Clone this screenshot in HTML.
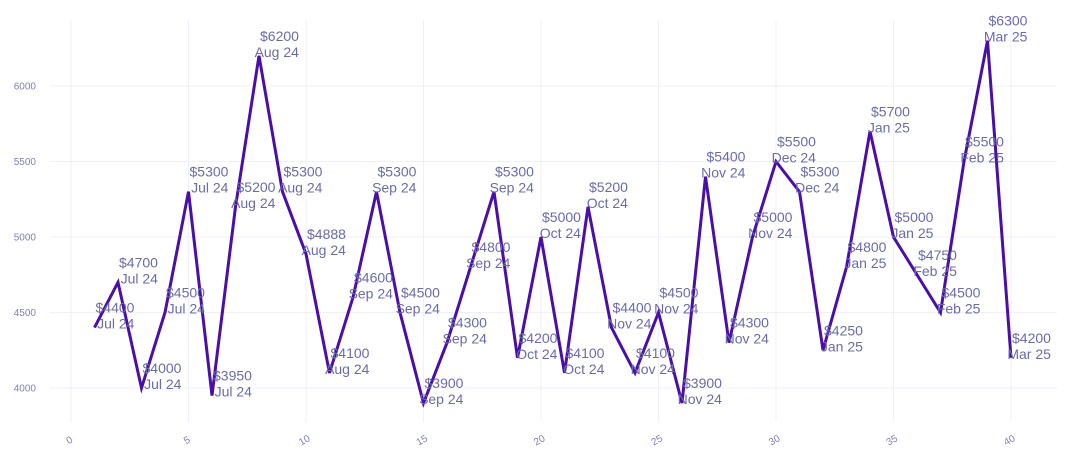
<!DOCTYPE html>
<html><head><meta charset="utf-8"><style>
body{margin:0;background:#fff;}
svg{display:block;font-family:"Liberation Sans",Arial,sans-serif;}
</style></head><body>
<svg id="chart" width="1075" height="462" viewBox="0 0 1075 462">
<g id="grid"></g>
<g id="axes"></g>
<g id="series"></g>
<g id="labels"></g>
</svg>
<script>
const xValues=[1,2,3,4,5,6,7,8,9,10,11,12,13,14,15,16,17,18,19,20,21,22,23,24,25,26,27,28,29,30,31,32,33,34,35,36,37,38,39,40];
const prices=[4400,4700,4000,4500,5300,3950,5200,6200,5300,4888,4100,4600,5300,4500,3900,4300,4800,5300,4200,5000,4100,5200,4400,4100,4500,3900,5400,4300,5000,5500,5300,4250,4800,5700,5000,4750,4500,5500,6300,4200];
const months=["Jul 24","Jul 24","Jul 24","Jul 24","Jul 24","Jul 24","Aug 24","Aug 24","Aug 24","Aug 24","Aug 24","Sep 24","Sep 24","Sep 24","Sep 24","Sep 24","Sep 24","Sep 24","Oct 24","Oct 24","Oct 24","Oct 24","Nov 24","Nov 24","Nov 24","Nov 24","Nov 24","Nov 24","Nov 24","Dec 24","Dec 24","Jan 25","Jan 25","Jan 25","Jan 25","Feb 25","Feb 25","Feb 25","Mar 25","Mar 25"];
const xTicks=[0,5,10,15,20,25,30,35,40];
const yTicks=[4000,4500,5000,5500,6000];

const NS="http://www.w3.org/2000/svg";
function sx(v){return 71+v*23.5;}
function sy(v){return 388-(v-4000)*0.151;}
function mk(tag,parent,attrs){const e=document.createElementNS(NS,tag);for(const k in attrs)e.setAttribute(k,attrs[k]);parent.appendChild(e);return e;}
const grid=document.getElementById('grid'),axes=document.getElementById('axes'),series=document.getElementById('series'),labels=document.getElementById('labels');

xTicks.forEach(t=>{
  const l=mk('line',grid,{x1:sx(t),x2:sx(t),y1:20,y2:422,stroke:'#f0effc','stroke-width':1});
  
  
  const x=sx(t),y=443;
  const tx=mk('text',axes,{x:x,y:y,'font-size':10,fill:'#8080b8','text-anchor':'middle',transform:`rotate(-30 ${x} ${y})`});
  tx.textContent=t;
  
  
});
yTicks.forEach(t=>{
  const l=mk('line',grid,{x1:50,x2:1057,y1:sy(t),y2:sy(t),stroke:'#f0effc','stroke-width':1});
  
  
  const tx=mk('text',axes,{x:36,y:sy(t)+3.5,'font-size':10,fill:'#8080b8','text-anchor':'end'});
  tx.textContent=t;
  
  
});

const pts=xValues.map((x,i)=>sx(x)+','+sy(prices[i])).join(' ');
const pl=mk('polyline',series,{points:pts,fill:'none',stroke:'#4a0fa8','stroke-width':3,'stroke-linejoin':'miter'});



xValues.forEach((x,i)=>{
  const px=sx(x),py=sy(prices[i]);
  const g=mk('g',labels,{});
  
  
  const t1=mk('text',g,{x:px+1,y:py-15,'font-size':14,fill:'#6b6ba8'});
  t1.textContent='$'+prices[i];
  const w=t1.getComputedTextLength();
  const t2=mk('text',g,{x:px+1+w,y:py+1,'font-size':14,fill:'#6b6ba8','text-anchor':'end'});
  t2.textContent=months[i];
});
</script>
</body></html>
